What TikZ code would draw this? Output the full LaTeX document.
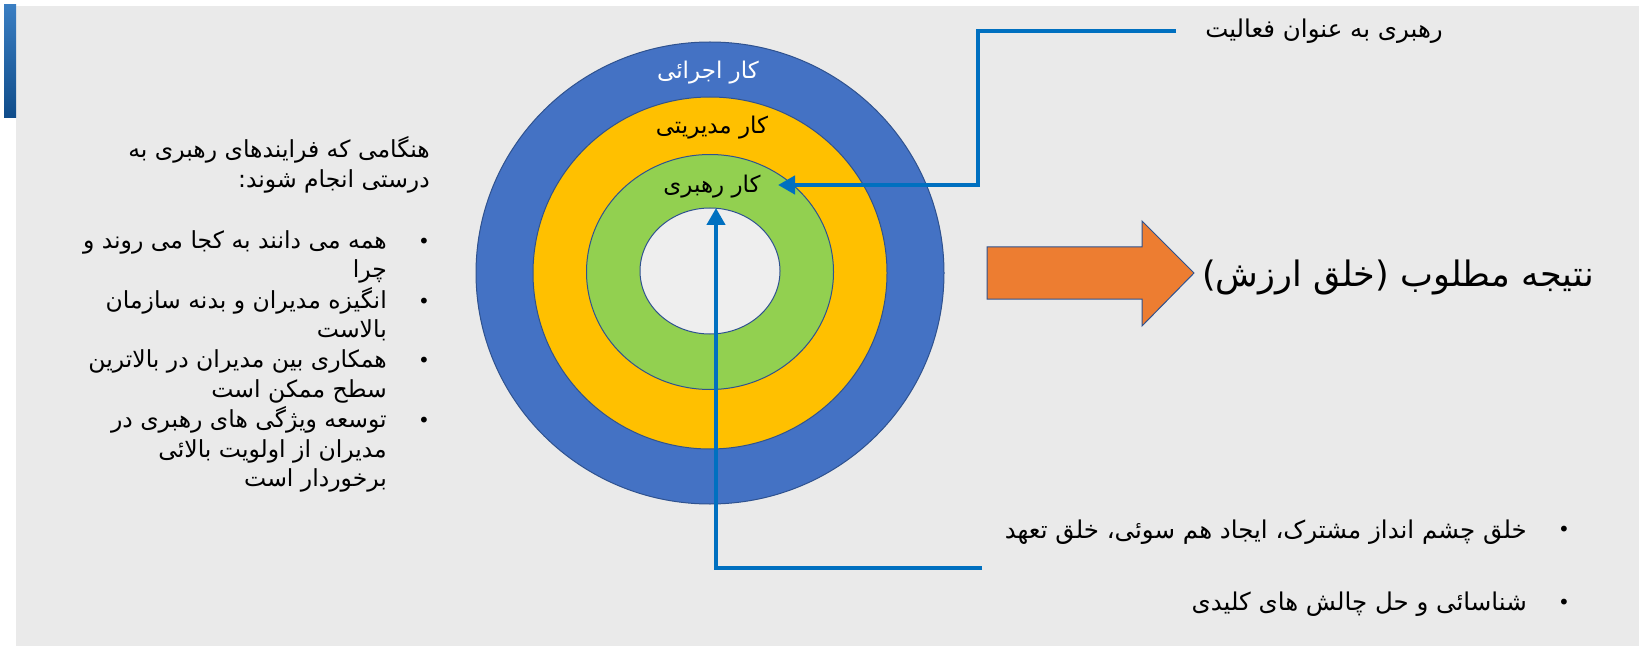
\documentclass[tikz,border=0pt]{standalone}
\usepackage{fontspec}
\usetikzlibrary{arrows.meta,shapes.geometric}
\TeXXeTstate=1
\newfontfamily\arabicfont[Script=Arabic]{DejaVu Sans}
\newcommand{\fa}[1]{{\arabicfont\beginR #1\endR}}

\definecolor{pagegray}{HTML}{EAEAEA}
\definecolor{corefill}{HTML}{EEEEEE}
\definecolor{ringblue}{HTML}{4472C4}
\definecolor{ringyellow}{HTML}{FFC000}
\definecolor{ringgreen}{HTML}{92D050}
\definecolor{ringedge}{HTML}{2F528F}
\definecolor{linkblue}{HTML}{0070C0}
\definecolor{resorange}{HTML}{ED7D31}
\definecolor{bartop}{HTML}{3A7EC2}
\definecolor{barbottom}{HTML}{0F4C8A}

\tikzset{
  ring/.style={ellipse, draw=ringedge, line width=1pt, inner sep=0pt},
  ringlabel/.style={font=\fontsize{23}{26}\selectfont, inner sep=0pt},
  link/.style={draw=linkblue, line width=4.5pt},
  linkarrow/.style={link, -{Triangle[length=17pt,width=18pt]}},
  line/.style={font=\fontsize{23.5}{30}\selectfont, inner sep=0pt,
               text height=17pt, text depth=7pt, anchor=east},
  sideline/.style={line, font=\fontsize{24.5}{30}\selectfont},
  bigline/.style={font=\fontsize{35}{40}\selectfont, inner sep=0pt, anchor=east},
  dot/.style={font=\fontsize{20}{24}\selectfont, inner sep=0pt}
}

\begin{document}
\begin{tikzpicture}[x=1pt,y=-1pt]
  \useasboundingbox (0,0) rectangle (1639,647);
  \fill[white] (0,0) rectangle (1639,647);
  \fill[pagegray] (16,6) rectangle (1639,646);
  \shade[top color=bartop, bottom color=barbottom] (4,5) rectangle (16,118);

  % concentric rings
  \node[ring, fill=ringblue,   minimum width=468pt, minimum height=462pt] (outer) at (710,273) {};
  \node[ring, fill=ringyellow, minimum width=354pt, minimum height=352pt] (middle) at (710,273) {};
  \node[ring, fill=ringgreen,  minimum width=247pt, minimum height=235pt] (inner) at (710,272) {};
  \node[ring, fill=corefill,   minimum width=140pt, minimum height=126pt] (core) at (710,271) {};

  \node[ringlabel, text=white] (exec) at (708,73) {\fa{کار اجرائی}};
  \node[ringlabel] (mgmt) at (712,128) {\fa{کار مدیریتی}};
  \node[ringlabel] (lead) at (712,187) {\fa{کار رهبری}};

  % leadership as an activity
  \node[sideline] (activity) at (1443,33) {\fa{رهبری به عنوان فعالیت}};
  \coordinate (actend) at (1176,31);
  \coordinate (actbend) at (978,31);
  \coordinate (leadtip) at (778,185);
  \draw[linkarrow] (actend) -- (actbend) |- (leadtip);

  % outcomes
  \node[sideline] (vision) at (1527,533) {\fa{خلق چشم انداز مشترک، ایجاد هم سوئی، خلق تعهد}};
  \node[sideline] (challenge) at (1527,605) {\fa{شناسائی و حل چالش های کلیدی}};
  \node[dot] (visiondot) at (1564,531) {\fa{•}};
  \node[dot] (challengedot) at (1564,604) {\fa{•}};
  \coordinate (valend) at (982,568);
  \coordinate (valbend) at (716,568);
  \coordinate (coretip) at (716,208);
  \draw[linkarrow] (valend) -- (valbend) -- (coretip);

  % result arrow
  \draw[fill=resorange, draw=ringedge, line width=1pt]
    (987,247) -- (1142,247) -- (1142,221) -- (1194,273) -- (1142,326)
    -- (1142,299) -- (987,299) -- cycle;
  \node[bigline] (result) at (1594,277) {\fa{نتیجه مطلوب (خلق ارزش)}};

  % conditions
  \node[line] (cond1) at (430,153) {\fa{هنگامی که فرایندهای رهبری به}};
  \node[line] (cond2) at (430,183) {\fa{درستی انجام شوند:}};

  \node[dot] (b1) at (424,243) {\fa{•}};
  \node[line] (b1a) at (387,243) {\fa{همه می دانند به کجا می روند و}};
  \node[line] (b1b) at (387,272) {\fa{چرا}};
  \node[dot] (b2) at (424,303) {\fa{•}};
  \node[line] (b2a) at (387,303) {\fa{انگیزه مدیران و بدنه سازمان}};
  \node[line] (b2b) at (387,332) {\fa{بالاست}};
  \node[dot] (b3) at (424,362) {\fa{•}};
  \node[line] (b3a) at (387,362) {\fa{همکاری بین مدیران در بالاترین}};
  \node[line] (b3b) at (387,392) {\fa{سطح ممکن است}};
  \node[dot] (b4) at (424,422) {\fa{•}};
  \node[line] (b4a) at (387,422) {\fa{توسعه ویژگی های رهبری در}};
  \node[line] (b4b) at (387,452) {\fa{مدیران از اولویت بالائی}};
  \node[line] (b4c) at (387,481) {\fa{برخوردار است}};
\end{tikzpicture}
\end{document}
